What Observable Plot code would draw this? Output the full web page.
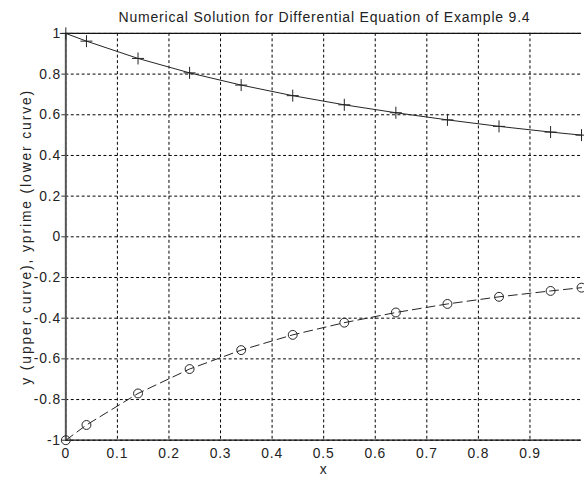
<!DOCTYPE html>
<html><head><meta charset="utf-8">
<script src="https://cdn.jsdelivr.net/npm/d3@7"></script>
<script src="https://cdn.jsdelivr.net/npm/@observablehq/plot@0.6"></script>
<style>
html,body{margin:0;padding:0;background:#fff;overflow:hidden;width:584px;height:481px;}
#title{height:25px;width:521px;margin-left:64px;text-align:center;font:14px "Liberation Sans",Arial,sans-serif;letter-spacing:0.8px;line-height:34px;color:#222;white-space:nowrap;}
#chart svg{display:block;}
</style></head>
<body>
<div id="title">Numerical Solution for Differential Equation of Example 9.4</div>
<div id="chart"></div>
<script>
const xs = [0, 0.04, 0.14, 0.24, 0.34, 0.44, 0.54, 0.64, 0.74, 0.84, 0.94, 1.0];
const yUpper = [1, 0.962, 0.877, 0.806, 0.746, 0.694, 0.649, 0.610, 0.575, 0.543, 0.515, 0.5];
const yLower = [-1, -0.925, -0.770, -0.650, -0.557, -0.482, -0.422, -0.372, -0.330, -0.295, -0.266, -0.25];
const xTicks = [0, 0.1, 0.2, 0.3, 0.4, 0.5, 0.6, 0.7, 0.8, 0.9];
const yTicks = [-1, -0.8, -0.6, -0.4, -0.2, 0, 0.2, 0.4, 0.6, 0.8, 1];
const yLabel = "y (upper curve), yprime (lower curve)";

const upper = xs.map((x, i) => ({x, y: yUpper[i]}));
const lower = xs.map((x, i) => ({x, y: yLower[i]}));
const fmt = d => String(+d.toFixed(1));

const chart = Plot.plot({
  width: 590, height: 456,
  marginLeft: 66, marginRight: 3, marginTop: 8, marginBottom: 37,
  style: {fontFamily: '"Liberation Sans", Arial, sans-serif', fontSize: "14px", letterSpacing: "0.8px", color: "#222", background: "#fff"},
  x: {domain: [0, 1]},
  y: {domain: [-1, 1]},
  marks: [
    Plot.gridX(xTicks, {stroke: "#000", strokeOpacity: 1, strokeDasharray: "3,2.5", strokeWidth: 1}),
    Plot.gridY(yTicks, {stroke: "#000", strokeOpacity: 1, strokeDasharray: "3,2.5", strokeWidth: 1}),
    Plot.axisX(xTicks, {tickSize: 0, tickPadding: 8, tickFormat: fmt, label: "x", labelAnchor: "center", labelArrow: "none", labelOffset: 34}),
    Plot.axisY(yTicks, {tickSize: 4, tickPadding: 1, stroke: "#333", tickFormat: fmt, label: yLabel, labelAnchor: "center", labelArrow: "none", labelOffset: 45}),
    Plot.ruleX([0], {stroke: "#555", strokeWidth: 2}),
    Plot.ruleY([-1, 1], {stroke: "#111", strokeWidth: 1.3}),
    Plot.line(upper, {x: "x", y: "y", stroke: "#222", strokeWidth: 1}),
    Plot.line(lower, {x: "x", y: "y", stroke: "#222", strokeWidth: 1, strokeDasharray: "9,5"}),
    Plot.dot(upper, {x: "x", y: "y", symbol: "plus", r: 4, stroke: "#222", strokeWidth: 1}),
    Plot.dot(lower, {x: "x", y: "y", symbol: "circle", r: 4.5, stroke: "#222", fill: "none", strokeWidth: 1})
  ]
});
d3.select(chart).selectAll("text").filter(function() { return this.textContent === yLabel; })
  .style("letter-spacing", "1.9px");
document.getElementById("chart").appendChild(chart);
</script>
</body></html>
